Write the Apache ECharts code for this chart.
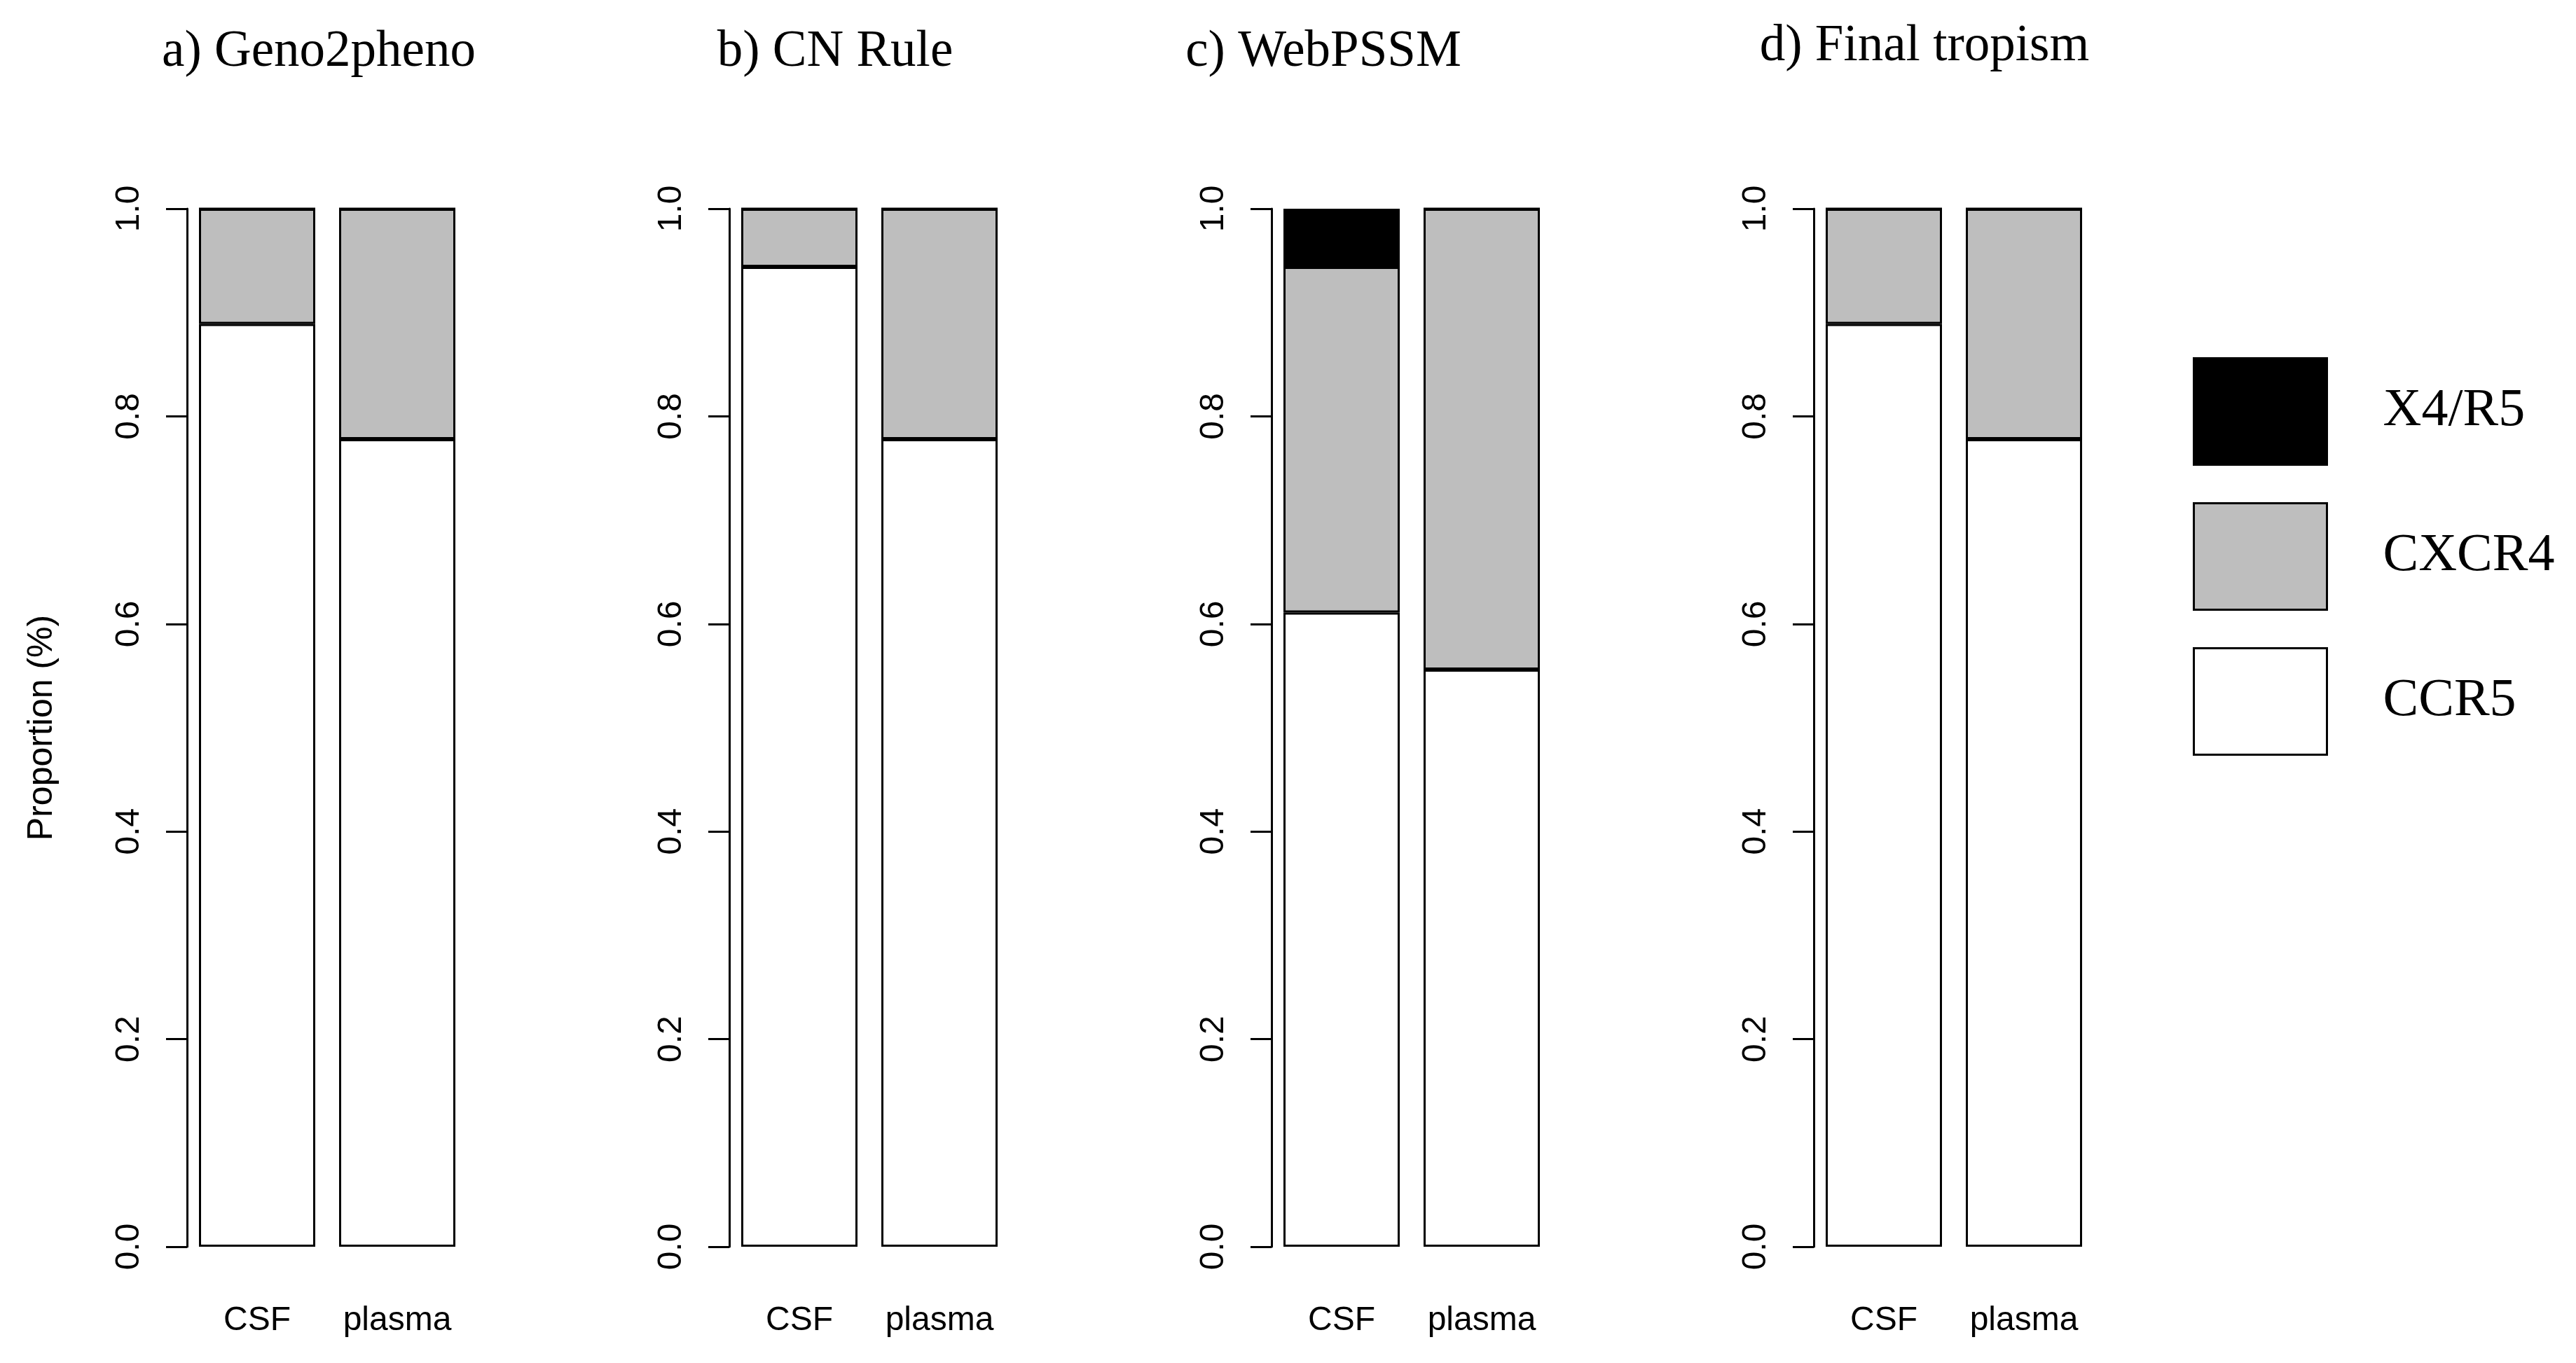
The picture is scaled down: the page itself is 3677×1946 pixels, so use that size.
<!DOCTYPE html>
<html>
<head>
<meta charset="utf-8">
<script src="https://cdn.jsdelivr.net/npm/echarts@6/dist/echarts.min.js"></script>
<style>
html,body{margin:0;padding:0;background:#fff;}
#chart{width:3677px;height:1946px;}
</style>
</head>
<body>
<div id="chart"></div>
<script>
// ---- data ----
var panelTitles = ['a) Geno2pheno', 'b) CN Rule', 'c) WebPSSM', 'd) Final tropism'];
var categories = ['CSF', 'plasma'];
var seriesNames = ['CCR5', 'CXCR4', 'X4/R5'];
var ccr5Values = [[0.889, 0.778], [0.944, 0.778], [0.611, 0.556], [0.889, 0.778]];
var cxcr4Values = [[0.111, 0.222], [0.056, 0.222], [0.333, 0.444], [0.111, 0.222]];
var x4r5Values = [[0, 0], [0, 0], [0.056, 0], [0, 0]];
var yTicks = [0, 0.2, 0.4, 0.6, 0.8, 1.0];
var yAxisName = 'Proportion (%)';

// ---- layout / style ----
var gridLefts = [267, 1041, 1815, 2589];
var gridWidth = 400, gridTop = 298, gridHeight = 1482;
var titleCenters = [450, 1187, 1884, 2742];
var titleTops = [33, 33, 33, 25];
var fills = {'CCR5': '#ffffff', 'CXCR4': '#bebebe', 'X4/R5': '#000000'};
var valuesByName = {'CCR5': ccr5Values, 'CXCR4': cxcr4Values, 'X4/R5': x4r5Values};
var sans = "'Liberation Sans', Arial, Helvetica, sans-serif";
var serif = "'Liberation Serif', 'Times New Roman', serif";
var lw = 3;

var grids = [], xAxes = [], yAxes = [], series = [], titles = [];
for (var p = 0; p < panelTitles.length; p++) {
  grids.push({left: gridLefts[p], top: gridTop, width: gridWidth, height: gridHeight, containLabel: false});
  xAxes.push({
    type: 'category', gridIndex: p, data: categories, boundaryGap: true,
    axisLine: {show: false}, axisTick: {show: false},
    axisLabel: {interval: 0, margin: 82, fontFamily: sans, fontSize: 48, color: '#000'}
  });
  yAxes.push({
    type: 'value', gridIndex: p, min: 0, max: 1, interval: 0.2,
    name: p === 0 ? yAxisName : '',
    nameLocation: 'middle', nameRotate: 90, nameGap: 182,
    nameTextStyle: {fontFamily: sans, fontSize: 50, color: '#000'},
    splitLine: {show: false},
    axisLine: {show: true, lineStyle: {color: '#000', width: lw}},
    axisTick: {show: true, length: 30, lineStyle: {color: '#000', width: lw}},
    axisLabel: {
      rotate: 90, margin: 58, fontFamily: sans, fontSize: 48, color: '#000',
      formatter: function (v) { return v.toFixed(1); }
    }
  });
  titles.push({
    text: panelTitles[p], left: titleCenters[p], top: titleTops[p], textAlign: 'center',
    textStyle: {fontFamily: serif, fontSize: 73, fontWeight: 'normal', color: '#000'}
  });
  seriesNames.forEach(function (name) {
    series.push({
      name: name, type: 'bar', stack: 'total' + p,
      xAxisIndex: p, yAxisIndex: p,
      barWidth: 166,
      data: valuesByName[name][p],
      itemStyle: {color: fills[name], borderColor: '#000', borderWidth: lw},
      emphasis: {disabled: true}
    });
  });
}

var chart = echarts.init(document.getElementById('chart'), null, {renderer: 'canvas'});
chart.setOption({
  animation: false,
  backgroundColor: '#ffffff',
  title: titles,
  grid: grids,
  xAxis: xAxes,
  yAxis: yAxes,
  legend: {
    orient: 'vertical', left: 3125, top: 505,
    data: ['X4/R5', 'CXCR4', 'CCR5'],
    icon: 'rect', itemWidth: 190, itemHeight: 152, itemGap: 52,
    itemStyle: {borderColor: '#000', borderWidth: lw},
    selectedMode: false,
    textStyle: {fontFamily: serif, fontSize: 76, color: '#000', padding: [0, 0, 0, 75]}
  },
  series: series
});
</script>
</body>
</html>
